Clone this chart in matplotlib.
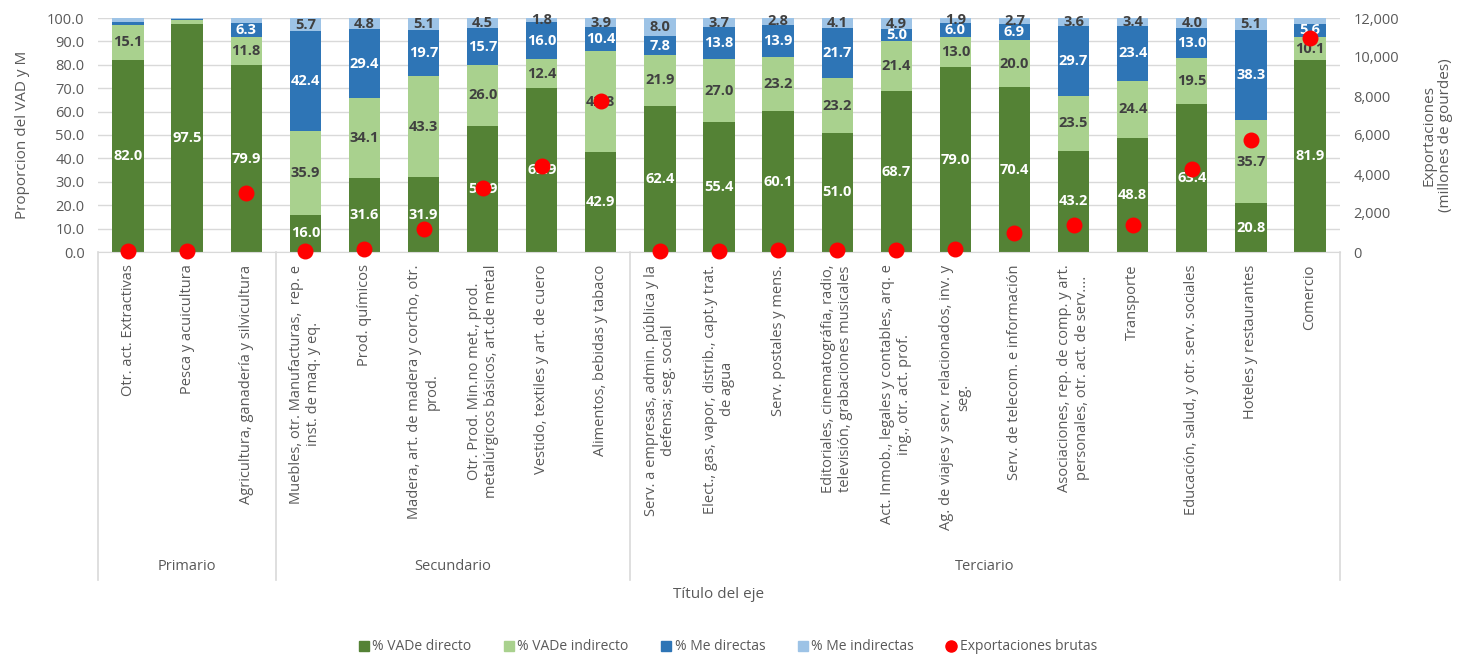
import matplotlib
matplotlib.use("Agg")
import matplotlib.pyplot as plt
from matplotlib.lines import Line2D
import numpy as np

plt.rcParams['font.family'] = ['Open Sans', 'DejaVu Sans']

# ---------- datos ----------
sectores = [
    "Otr. act. Extractivas",
    "Pesca y acuicultura",
    "Agricultura, ganadería y silvicultura",
    "Muebles, otr. Manufacturas,  rep. e\ninst. de maq. y eq.",
    "Prod. químicos",
    "Madera, art. de madera y corcho, otr.\nprod.",
    "Otr. Prod. Min.no met., prod.\nmetalúrgicos básicos, art.de metal",
    "Vestido, textiles y art. de cuero",
    "Alimentos, bebidas y tabaco",
    "Serv. a empresas, admin. pública y la\ndefensa; seg. social",
    "Elect., gas, vapor, distrib., capt.y trat.\nde agua",
    "Serv. postales y mens.",
    "Editoriales, cinematográfia, radio,\ntelevisión, grabaciones musicales",
    "Act. Inmob., legales y contables, arq. e\ning., otr. act. prof.",
    "Ag. de viajes y serv. relacionados, inv. y\nseg.",
    "Serv. de telecom. e información",
    "Asociaciones, rep. de comp. y art.\npersonales, otr. act. de serv....",
    "Transporte",
    "Educación, salud, y otr. serv. sociales",
    "Hoteles y restaurantes",
    "Comercio",
]
grupos = ["Primario", "Secundario", "Terciario"]
grupo_n = [3, 6, 12]

vad_directo = [82.0, 97.5, 79.9, 16.0, 31.6, 31.9, 53.9, 69.9, 42.9, 62.4, 55.4,
               60.1, 51.0, 68.7, 79.0, 70.4, 43.2, 48.8, 63.4, 20.8, 81.9]
vad_indirecto = [15.1, 1.5, 11.8, 35.9, 34.1, 43.3, 26.0, 12.4, 42.8, 21.9, 27.0,
                 23.2, 23.2, 21.4, 13.0, 20.0, 23.5, 24.4, 19.5, 35.7, 10.1]
me_directas = [1.2, 0.6, 6.3, 42.4, 29.4, 19.7, 15.7, 16.0, 10.4, 7.8, 13.8,
               13.9, 21.7, 5.0, 6.0, 6.9, 29.7, 23.4, 13.0, 38.3, 5.6]
me_indirectas = [1.7, 0.4, 2.0, 5.7, 4.8, 5.1, 4.5, 1.8, 3.9, 8.0, 3.7,
                 2.8, 4.1, 4.9, 1.9, 2.7, 3.6, 3.4, 4.0, 5.1, 2.4]
exportaciones = [50, 30, 3030, 50, 150, 1180, 3280, 4410, 7730, 30, 30,
                 80, 100, 100, 150, 975, 1380, 1380, 4260, 5750, 10980]

# etiquetas que no aparecen en el grafico original
sin_etiqueta = {
    "vd": [],
    "vi": [1],
    "md": [0, 1],
    "mi": [0, 1, 2, 20],
}

# ---------- figura ----------
fig = plt.figure(figsize=(14.58, 6.56), dpi=100)
ax = fig.add_axes([98.5 / 1458, 1 - 252 / 656, 1241 / 1458, 234 / 656])

x = np.arange(len(sectores))
ancho = 0.53
series = [
    ("vd", vad_directo, "#548235", "white", "% VADe directo"),
    ("vi", vad_indirecto, "#A9D18E", "#404040", "% VADe indirecto"),
    ("md", me_directas, "#2E75B6", "white", "% Me directas"),
    ("mi", me_indirectas, "#9DC3E6", "#404040", "% Me indirectas"),
]
base = np.zeros(len(x))
handles = []
for clave, vals, color, txt_color, nombre in series:
    vals = np.array(vals)
    ax.bar(x, vals, ancho, bottom=base, color=color, zorder=2)
    for i, v in enumerate(vals):
        if i in sin_etiqueta[clave]:
            continue
        ax.text(x[i], base[i] + v / 2, f"{v:.1f}", ha="center", va="center",
                color=txt_color, fontsize=10.5, fontweight="bold", zorder=3)
    base += vals
    handles.append(Line2D([], [], marker="s", color="none", markerfacecolor=color,
                          markeredgecolor=color, markersize=7, label=nombre))

ax.set_xlim(-0.5, len(x) - 0.5)
ax.set_ylim(0, 100)
ax.set_yticks(np.arange(0, 101, 10))
ax.set_yticklabels([f"{v:.1f}" for v in np.arange(0, 101, 10)])
ax.yaxis.grid(True, color="#D9D9D9", linewidth=1, zorder=0)
ax.set_axisbelow(True)
for s in ["top", "left", "right"]:
    ax.spines[s].set_visible(False)
ax.spines["bottom"].set_color("#D9D9D9")
ax.tick_params(axis="y", length=0, labelsize=10.5, labelcolor="#595959", pad=10)
ax.set_xticks(x)
ax.set_xticklabels(sectores, rotation=90, ha="center", va="top",
                   multialignment="center", fontsize=10.5, color="#595959")
ax.tick_params(axis="x", length=0, pad=9)
ax.set_ylabel("Proporcion del VAD y M", fontsize=11, color="#595959", labelpad=12)

# separadores de grupos y nombres
trans = ax.get_xaxis_transform()
limites = np.concatenate([[0], np.cumsum(grupo_n)]) - 0.5
for b in limites:
    ax.plot([b, b], [0, -1.402], transform=trans, color="#D9D9D9", lw=1.2, clip_on=False)
for g, a, b in zip(grupos, limites[:-1], limites[1:]):
    ax.text((a + b) / 2, -1.346, g, transform=trans, ha="center", va="center",
            fontsize=10.5, color="#595959")

# eje secundario: exportaciones
ax2 = ax.twinx()
ax2.scatter(x, exportaciones, s=110, color="#FF0000", zorder=5, clip_on=False)
ax2.set_ylim(0, 12000)
ax2.set_yticks(np.arange(0, 12001, 2000))
ax2.set_yticklabels([f"{v:,.0f}" for v in np.arange(0, 12001, 2000)])
for s in ax2.spines.values():
    s.set_visible(False)
ax2.tick_params(axis="y", length=0, labelsize=10.5, labelcolor="#595959", pad=10)
ax2.set_ylabel("Exportaciones\n(millones de gourdes)", fontsize=11, color="#595959",
               labelpad=16)
handles.append(Line2D([], [], marker="o", color="none", markerfacecolor="#FF0000",
                      markeredgecolor="#FF0000", markersize=8, label="Exportaciones brutas"))

fig.text(719 / 1458, 1 - 594 / 656, "Título del eje", ha="center", va="center",
         fontsize=11, color="#595959")

fig.legend(handles=handles, loc="center", bbox_to_anchor=(727 / 1458, 1 - 647 / 656),
           ncol=5, frameon=False, fontsize=10, labelcolor="#595959",
           handletextpad=0.1, columnspacing=2.2, handlelength=1.0)

fig.savefig("out.png", dpi=100, facecolor="white")
